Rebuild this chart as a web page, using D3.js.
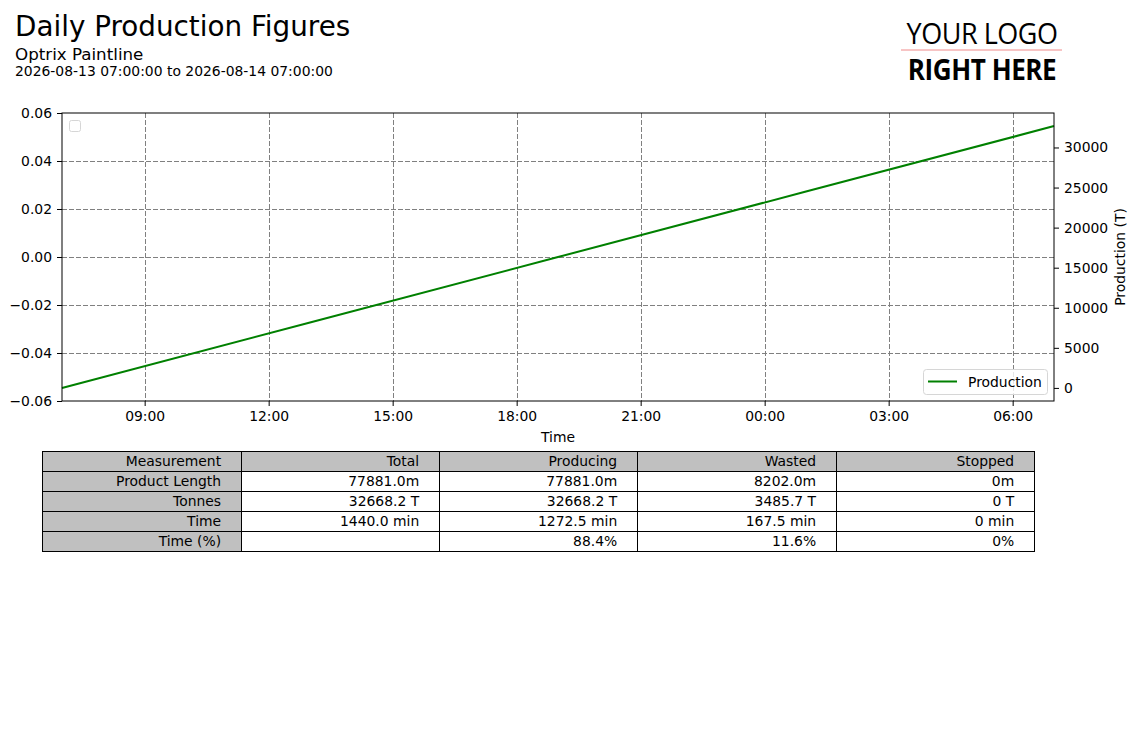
<!DOCTYPE html>
<html>
<head>
<meta charset="utf-8">
<script src="https://cdn.jsdelivr.net/npm/d3@7"></script>
<style>
  body { margin: 0; background: #fff; }
  svg text { font-family: "DejaVu Sans", sans-serif; }
</style>
</head>
<body>
<svg id="chart" width="1137" height="744"></svg>
<script>
// data
const times = ["2026-08-13 07:00", "2026-08-13 13:00", "2026-08-13 19:00", "2026-08-14 01:00", "2026-08-14 07:00"];
const production = [0, 8170, 16330, 24500, 32668.2];
const leftTicks = [-0.06, -0.04, -0.02, 0.00, 0.02, 0.04, 0.06];
const rightTicks = [0, 5000, 10000, 15000, 20000, 25000, 30000];
const xTickTimes = ["2026-08-13 09:00", "2026-08-13 12:00", "2026-08-13 15:00", "2026-08-13 18:00",
                    "2026-08-13 21:00", "2026-08-14 00:00", "2026-08-14 03:00", "2026-08-14 06:00"];

const tableHeader = ["Measurement", "Total", "Producing", "Wasted", "Stopped"];
const rowLabels = ["Product Length", "Tonnes", "Time", "Time (%)"];
const totalCol = ["77881.0m", "32668.2 T", "1440.0 min", ""];
const producingCol = ["77881.0m", "32668.2 T", "1272.5 min", "88.4%"];
const wastedCol = ["8202.0m", "3485.7 T", "167.5 min", "11.6%"];
const stoppedCol = ["0m", "0 T", "0 min", "0%"];

const parse = d3.timeParse("%Y-%m-%d %H:%M");
const svg = d3.select("#chart");
const fs = "13.9px";

// header
svg.append("text").attr("x", 15).attr("y", 36)
  .style("font-size", "27.8px").text("Daily Production Figures");
svg.append("text").attr("x", 15).attr("y", 60)
  .style("font-size", "16.7px").text("Optrix Paintline");
svg.append("text").attr("x", 15).attr("y", 76)
  .style("font-size", fs).text("2026-08-13 07:00:00 to 2026-08-14 07:00:00");

// logo
const logo = svg.append("g");
logo.append("text").attr("transform", "translate(982,44) scale(0.93,1)").attr("text-anchor", "middle")
  .style("font-family", "'Open Sans', sans-serif").style("font-size", "29px")
  .style("font-weight", 400).style("letter-spacing", "-0.5px").text("YOUR LOGO");
logo.append("line").attr("x1", 901).attr("x2", 1062).attr("y1", 50).attr("y2", 50)
  .attr("stroke", "#f08a8a").attr("stroke-width", 1);
logo.append("text").attr("transform", "translate(982,80) scale(0.9,1)").attr("text-anchor", "middle")
  .style("font-family", "'Open Sans', sans-serif").style("font-size", "29px")
  .style("font-weight", 700).style("letter-spacing", "-0.5px").text("RIGHT HERE");

// plot area
const m = { left: 62, top: 113, right: 1054, bottom: 401 };
const plot = svg.append("g");

const x = d3.scaleTime()
  .domain([parse(times[0]), parse(times[times.length - 1])])
  .range([m.left, m.right]);
const yLeft = d3.scaleLinear().domain([-0.06, 0.06]).range([m.bottom, m.top]);
const pad = (d3.max(production) - d3.min(production)) * 0.05;
const yRight = d3.scaleLinear()
  .domain([d3.min(production) - pad, d3.max(production) + pad])
  .range([m.bottom, m.top]);

// grid
const grid = plot.append("g").attr("stroke", "#808080").attr("stroke-width", 1)
  .attr("stroke-dasharray", "5,2");
grid.selectAll(".gx").data(xTickTimes.map(parse)).join("line")
  .attr("x1", d => Math.round(x(d)) + 0.5).attr("x2", d => Math.round(x(d)) + 0.5)
  .attr("y1", m.top).attr("y2", m.bottom);
grid.selectAll(".gy").data(leftTicks.slice(1, -1)).join("line")
  .attr("x1", m.left).attr("x2", m.right)
  .attr("y1", d => Math.round(yLeft(d)) + 0.5).attr("y2", d => Math.round(yLeft(d)) + 0.5);

// line
plot.append("path")
  .datum(times.map((t, i) => ({ t: parse(t), v: production[i] })))
  .attr("fill", "none").attr("stroke", "#008000").attr("stroke-width", 2)
  .attr("d", d3.line().x(d => x(d.t)).y(d => yRight(d.v)));

// frame
plot.append("rect").attr("x", m.left).attr("y", m.top)
  .attr("width", m.right - m.left).attr("height", m.bottom - m.top)
  .attr("fill", "none").attr("stroke", "#000").attr("stroke-width", 1);

// axes
const styleAxis = g => {
  g.select(".domain").remove();
  g.selectAll("text").style("font-size", fs).attr("fill", "#000")
    .style("font-family", "'DejaVu Sans', sans-serif");
  g.selectAll(".tick line").attr("stroke", "#000");
};
svg.append("g").attr("transform", `translate(0,${m.bottom})`)
  .call(d3.axisBottom(x).tickValues(xTickTimes.map(parse)).tickFormat(d3.timeFormat("%H:%M"))
    .tickSize(5).tickPadding(5))
  .call(styleAxis);
svg.append("g").attr("transform", `translate(${m.left},0)`)
  .call(d3.axisLeft(yLeft).tickValues(leftTicks)
    .tickFormat(d => d3.format(".2f")(d).replace("-", "\u2212")).tickSize(5).tickPadding(5))
  .call(styleAxis);
svg.append("g").attr("transform", `translate(${m.right},0)`)
  .call(d3.axisRight(yRight).tickValues(rightTicks).tickFormat(d3.format("d"))
    .tickSize(5).tickPadding(5))
  .call(styleAxis);

svg.append("text").attr("x", (m.left + m.right) / 2).attr("y", 442)
  .attr("text-anchor", "middle").style("font-size", fs).text("Time");
svg.append("text").attr("transform", `translate(1125,${(m.top + m.bottom) / 2}) rotate(-90)`)
  .attr("text-anchor", "middle").style("font-size", fs).text("Production (T)");

// empty legend (left axis)
svg.append("rect").attr("x", 69.5).attr("y", 120.5).attr("width", 11).attr("height", 11)
  .attr("rx", 2).attr("fill", "#fff").attr("stroke", "#d6d6d6");

// production legend
const lg = svg.append("g");
lg.append("rect").attr("x", 923.5).attr("y", 369.5).attr("width", 124).attr("height", 25)
  .attr("rx", 3).attr("fill", "#fff").attr("fill-opacity", 0.8).attr("stroke", "#d6d6d6");
lg.append("line").attr("x1", 928).attr("x2", 957).attr("y1", 381.5).attr("y2", 381.5)
  .attr("stroke", "#008000").attr("stroke-width", 2);
lg.append("text").attr("x", 968).attr("y", 386.5).style("font-size", fs).text("Production");

// table
const colEdges = [42, 241, 439, 637, 836, 1034];
const rowTop = 451, rowH = 20;
const rows = [tableHeader].concat(rowLabels.map((l, i) =>
  [l, totalCol[i], producingCol[i], wastedCol[i], stoppedCol[i]]));
const tbl = svg.append("g");
rows.forEach((row, r) => {
  row.forEach((txt, c) => {
    const x0 = colEdges[c], w = colEdges[c + 1] - colEdges[c];
    const y0 = rowTop + r * rowH;
    tbl.append("rect").attr("x", x0 + 0.5).attr("y", y0 + 0.5).attr("width", w).attr("height", rowH)
      .attr("fill", (r === 0 || c === 0) ? "#c0c0c0" : "#fff")
      .attr("stroke", "#000").attr("stroke-width", 1);
    tbl.append("text").attr("x", x0 + w - w * 0.1).attr("y", y0 + 15)
      .attr("text-anchor", "end").style("font-size", fs).text(txt);
  });
});
</script>
</body>
</html>
